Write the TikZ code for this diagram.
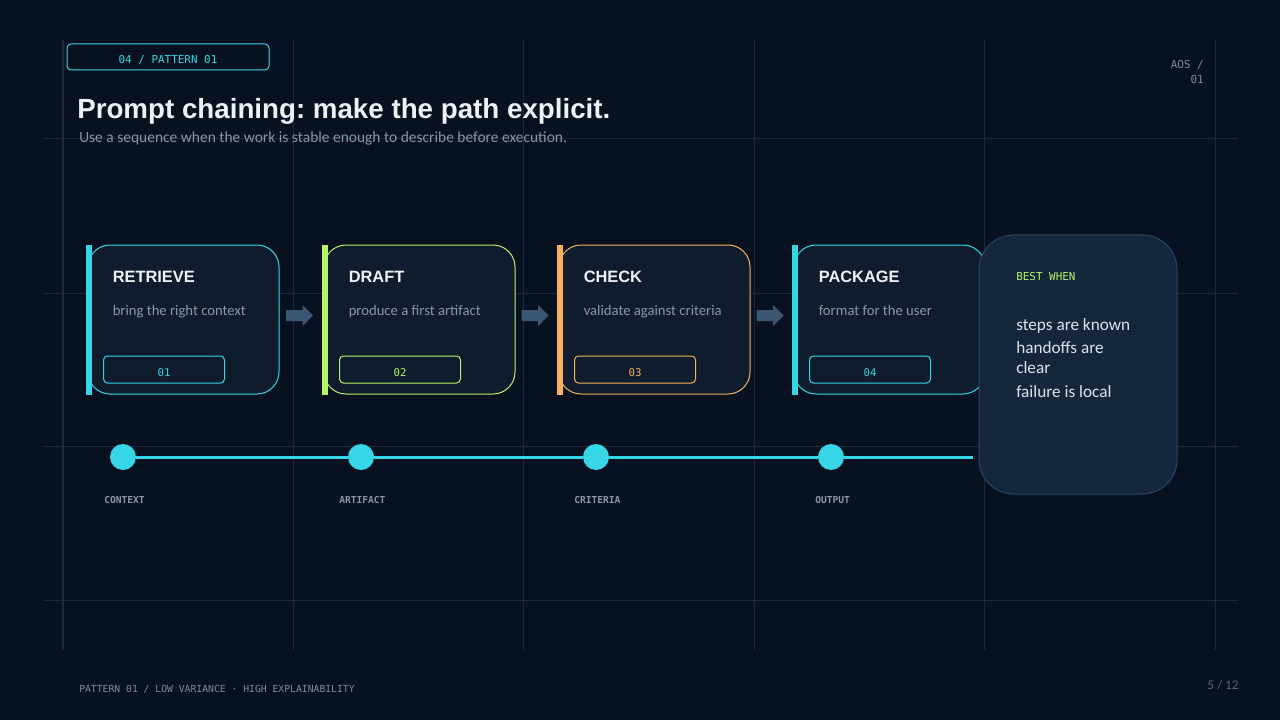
\documentclass[tikz,border=0pt]{standalone}
\usepackage{fontspec}
\setmainfont{Liberation Sans}
\newfontfamily\carl{Carlito}
\newfontfamily\mono{DejaVu Sans Mono}
\usetikzlibrary{calc}
\definecolor{bgc}{HTML}{08111F}
\definecolor{gridc}{HTML}{1A2B3D}
\definecolor{cardc}{HTML}{0F1C2E}
\definecolor{cyanc}{HTML}{36D6E7}
\definecolor{greenc}{HTML}{B7F36A}
\definecolor{orangec}{HTML}{F6B35C}
\definecolor{arrowc}{HTML}{3B5670}
\definecolor{whitec}{HTML}{EEF2F6}
\definecolor{subc}{HTML}{8797AB}
\definecolor{dimc}{HTML}{7C8B9E}
\definecolor{pagec}{HTML}{56657A}
\definecolor{bestc}{HTML}{13263B}
\definecolor{bestb}{HTML}{2B4660}
\definecolor{textc}{HTML}{DDE4EC}
\tikzset{
  gridline/.style={draw=gridc, line width=0.75pt},
  card/.style={rectangle, rounded corners=16.5pt, fill=cardc, line width=0.75pt,
    minimum width=143.25pt, minimum height=111.75pt, inner sep=0pt},
  badge/.style={rectangle, rounded corners=3pt, line width=0.75pt,
    minimum width=90.75pt, minimum height=20.25pt, inner sep=0pt},
  badgetext/.style={inner sep=0pt, font=\mono\fontsize{8pt}{9pt}\selectfont},
  ctitle/.style={anchor=base west, inner sep=0pt, text=whitec, font=\bfseries\fontsize{12.3pt}{14pt}\selectfont},
  csub/.style={anchor=base west, inner sep=0pt, text=subc, font=\carl\fontsize{11pt}{13pt}\selectfont},
  dot/.style={circle, fill=cyanc, minimum size=19.5pt, inner sep=0pt},
  tlabel/.style={anchor=base west, inner sep=0pt, text=subc, font=\mono\bfseries\fontsize{7.2pt}{8pt}\selectfont},
  tline/.style={draw=cyanc, line width=2.25pt},
  blockarrow/.style={fill=arrowc},
  besttext/.style={anchor=base west, inner sep=0pt, text=textc, font=\carl\fontsize{12.9pt}{15pt}\selectfont},
}
\begin{document}
\begin{tikzpicture}[x=0.75pt,y=-0.75pt]
\useasboundingbox (0,0) rectangle (1280,720);
\fill[bgc] (0,0) rectangle (1280,720);
% grid
\foreach \gx in {293,523,754,984,1215} \draw[gridline] (\gx,40) -- (\gx,650);
\draw[gridline, line width=1.1pt] (63,40) -- (63,650);
\foreach \gy in {139,293,600} \draw[gridline] (43,\gy) -- (1238,\gy);
\draw[gridline, line width=1.4pt] (43,446.5) -- (1238,446.5);

% header
\node[draw=cyanc, rounded corners=3pt, line width=0.75pt, minimum width=151.5pt, minimum height=19.5pt, inner sep=0pt] (pill) at (168,57) {};
\node[inner sep=0pt, text=cyanc, font=\mono\fontsize{8.2pt}{9pt}\selectfont] (pilltext) at ($(pill.center)+(0,3)$) {04 / PATTERN 01};
\node[anchor=base west, inner sep=0pt, text=whitec, font=\bfseries\fontsize{20.8pt}{24pt}\selectfont] (title) at (77,119) {Prompt chaining:\hspace{-2pt} make the path explicit.};
\node[anchor=base west, inner sep=0pt, text=subc, font=\carl\fontsize{11.6pt}{13pt}\selectfont] (subtitle) at (79,143) {Use a sequence when the work is stable enough to describe before execution.};
\node[anchor=base east, inner sep=0pt, text=dimc, font=\mono\fontsize{8.2pt}{9pt}\selectfont] (aos) at (1204,69) {AOS /};
\node[anchor=base east, inner sep=0pt, text=dimc, font=\mono\fontsize{8.2pt}{9pt}\selectfont] (aosn) at (1204,84) {01};

% cards
\node[card, draw=cyanc] (c1) at (183.5,319.5) {};
\node[card, draw=greenc] (c2) at (419.5,319.5) {};
\node[card, draw=orangec] (c3) at (654.5,319.5) {};
\node[card, draw=cyanc] (c4) at (889.5,319.5) {};
\foreach \c/\col/\t/\s/\n in {c1/cyanc/RETRIEVE/bring the right context/01,
                              c2/greenc/DRAFT/produce a first artifact/02,
                              c3/orangec/CHECK/validate against criteria/03,
                              c4/cyanc/PACKAGE/format for the user/04}{
  \fill[\col] ($(\c.north west)+(-2,0)$) rectangle ($(\c.south west)+(4,0)$);
  \node[ctitle] (\c-t) at ($(\c.west)+(25,-37.5)$) {\t};
  \node[csub] (\c-s) at ($(\c.west)+(25,-4.5)$) {\s};
  \node[badge, draw=\col] (\c-b) at ($(\c.west)+(76.5,50)$) {};
  \node[badgetext, text=\col] (\c-n) at ($(\c-b.center)+(0,3.5)$) {\n};
}
% block arrows
\foreach \a/\b in {c1/c2,c2/c3,c3/c4}{
  \coordinate (\a-\b) at ($(\a.east)!0.5!(\b.west)+(-2,-4)$);
  \fill[blockarrow] ($(\a-\b)+(-13.5,-5.5)$) -- ++(16.5,0) -- ++(0,-5) -- ++(10.5,10.5) -- ++(-10.5,10.5) -- ++(0,-5) -- ++(-16.5,0) -- cycle;
}

% timeline
\node[dot] (d1) at (123,457) {};
\node[dot] (d2) at (361,457) {};
\node[dot] (d3) at (596,457) {};
\node[dot] (d4) at (831,457) {};
\coordinate (tend) at (973,457);
\draw[tline] (d1) -- (d2);
\draw[tline] (d2) -- (d3);
\draw[tline] (d3) -- (d4);
\draw[tline] (d4) -- (tend);
\node[tlabel] (l1) at (104,503) {CONTEXT};
\node[tlabel] (l2) at (339,503) {ARTIFACT};
\node[tlabel] (l3) at (574,503) {CRITERIA};
\node[tlabel] (l4) at (815,503) {OUTPUT};

% best when
\node[rectangle, rounded corners=26pt, fill=bestc, draw=bestb, line width=0.75pt,
  minimum width=148.5pt, minimum height=194.25pt, inner sep=0pt] (best) at (1078,364.5) {};
\node[anchor=base west, inner sep=0pt, text=greenc, font=\mono\fontsize{8.2pt}{9pt}\selectfont] (bw) at (1016,280) {BEST WHEN};
\node[besttext] (b1) at (1016,330) {steps are known};
\node[besttext] (b2) at (1016,353) {handoffs are};
\node[besttext] (b3) at (1016,373) {clear};
\node[besttext] (b4) at (1016,397) {failure is local};

% footer
\node[anchor=base west, inner sep=0pt, text=dimc, font=\mono\fontsize{7.3pt}{8pt}\selectfont] (foot) at (79,692) {PATTERN 01 / LOW VARIANCE · HIGH EXPLAINABILITY};
\node[anchor=base east, inner sep=0pt, text=pagec, font=\carl\fontsize{10pt}{11pt}\selectfont] (page) at (1239,689) {5 / 12};
\end{tikzpicture}
\end{document}
